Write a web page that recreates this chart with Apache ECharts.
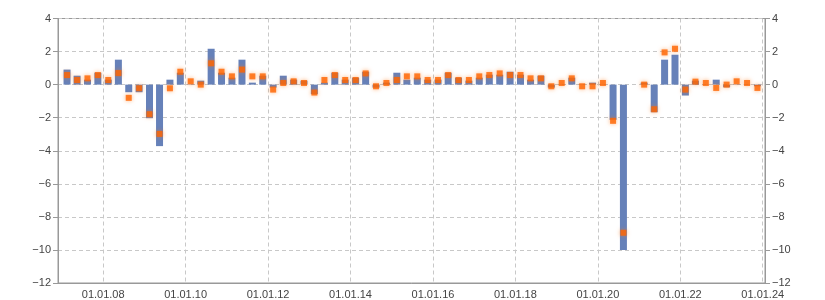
<!DOCTYPE html>
<html>
<head>
<meta charset="utf-8">
<script src="https://cdn.jsdelivr.net/npm/echarts@6/dist/echarts.min.js"></script>
<style>html,body{margin:0;padding:0;background:#fff}#c{width:825px;height:300px}</style>
</head>
<body>
<div id="c"></div>
<script>
// Quarterly periods 2007 Q1 .. 2023 Q4 (plotted at mid-quarter)
var firstYear = 2007, lastYear = 2023;
var quarterMonths = ['02-15', '05-15', '08-15', '11-15'];
var periods = [];
for (var y = firstYear; y <= lastYear; y++) {
  for (var q = 0; q < 4; q++) periods.push(y + '-' + quarterMonths[q]);
}
// Blue bars
var barValues = [
  0.91, 0.54, 0.30, 0.72, 0.30, 1.51, -0.46, -0.46, -2.03, -3.72,
  0.30, 0.72, 0.02, 0.24, 2.17, 0.72, 0.42, 1.51, 0.12, 0.54,
  -0.18, 0.54, 0.30, 0.24, -0.58, 0.12, 0.72, 0.30, 0.42, 0.78,
  -0.18, 0.12, 0.72, 0.30, 0.42, 0.30, 0.30, 0.72, 0.42, 0.24,
  0.42, 0.60, 0.60, 0.78, 0.60, 0.30, 0.54, -0.18, 0.02, 0.42,
  -0.02, 0.12, 0.02, -2.13, -10.0, null, 0.12, -1.67, 1.51, 1.81,
  -0.66, 0.24, 0.02, 0.30, -0.16, 0.02, 0.02, -0.10
];
// Orange markers
var markerValues = [
  0.58, 0.28, 0.38, 0.58, 0.28, 0.70, -0.80, -0.22, -1.79, -2.98,
  -0.22, 0.78, 0.20, 0.00, 1.29, 0.78, 0.50, 0.91, 0.50, 0.50,
  -0.30, 0.10, 0.20, 0.10, -0.48, 0.28, 0.58, 0.28, 0.28, 0.68,
  -0.10, 0.10, 0.28, 0.50, 0.50, 0.28, 0.28, 0.58, 0.28, 0.28,
  0.50, 0.58, 0.68, 0.58, 0.58, 0.38, 0.38, -0.10, 0.10, 0.38,
  -0.10, -0.10, 0.10, -2.19, -8.96, null, 0.00, -1.49, 1.95, 2.17,
  -0.30, 0.18, 0.10, -0.20, 0.00, 0.20, 0.10, -0.20
];
var xLabelDates = ['2008-01-01','2010-01-01','2012-01-01','2014-01-01','2016-01-01','2018-01-01','2020-01-01','2022-01-01','2024-01-01'];
var xMin = '2006-11-27', xMax = '2024-01-21';
var yMin = -12, yMax = 4, yStep = 2;

// date string -> fractional year
function fy(s) {
  var p = s.split('-'), yr = +p[0];
  var t0 = Date.UTC(yr, 0, 1), t1 = Date.UTC(yr + 1, 0, 1);
  var t = Date.UTC(yr, +p[1] - 1, +p[2]);
  return yr + (t - t0) / (t1 - t0);
}
var xTicks = xLabelDates.map(fy);
var barData = periods.map(function (d, i) { return [fy(d), barValues[i]]; });
var markerData = periods.map(function (d, i) { return [fy(d), markerValues[i]]; });

var font = 'Liberation Sans';
var labelColor = '#444';
var axisColor = '#999';
var gridColor = '#c8c8c8';

function yAxis(pos, split) {
  return {
    type: 'value', position: pos, min: yMin, max: yMax, interval: yStep,
    axisLine: { show: true, lineStyle: { color: axisColor, width: 1 } },
    axisTick: { show: true, length: 5, lineStyle: { color: axisColor } },
    axisLabel: {
      color: labelColor, fontFamily: font, fontSize: 11, margin: 7,
      formatter: function (v) { return v < 0 ? '\u2212' + Math.abs(v) : String(v); }
    },
    splitLine: { show: split, lineStyle: { color: gridColor, type: [4, 3], width: 1 } }
  };
}

var chart = echarts.init(document.getElementById('c'), null, { renderer: 'canvas' });
chart.setOption({
  animation: false,
  backgroundColor: '#fff',
  grid: { left: 58, right: 60, top: 18.5, bottom: 17, show: true, borderColor: axisColor, borderWidth: 1, backgroundColor: 'transparent' },
  xAxis: {
    type: 'value', min: fy(xMin), max: fy(xMax),
    axisLine: { show: true, onZero: false, lineStyle: { color: axisColor } },
    axisTick: { show: false, customValues: xTicks },
    axisLabel: {
      customValues: xTicks, color: labelColor, fontFamily: font, fontSize: 11, margin: 6,
      formatter: function (v) {
        var yy = String(Math.round(v)).slice(2);
        return '01.01.' + yy;
      }
    },
    splitLine: { show: true, lineStyle: { color: gridColor, type: [4, 3], width: 1 } }
  },
  yAxis: [yAxis('left', true), yAxis('right', false)],
  series: [
    {
      type: 'bar', data: barData, barWidth: 7, yAxisIndex: 0,
      itemStyle: { color: '#6681B9' }, z: 2
    },
    {
      type: 'scatter', data: markerData, symbol: 'rect', symbolSize: 6, yAxisIndex: 0,
      itemStyle: { color: '#FF6400', shadowBlur: 4, shadowColor: 'rgba(255,120,20,0.7)' }, z: 3
    }
  ]
});
</script>
</body>
</html>
